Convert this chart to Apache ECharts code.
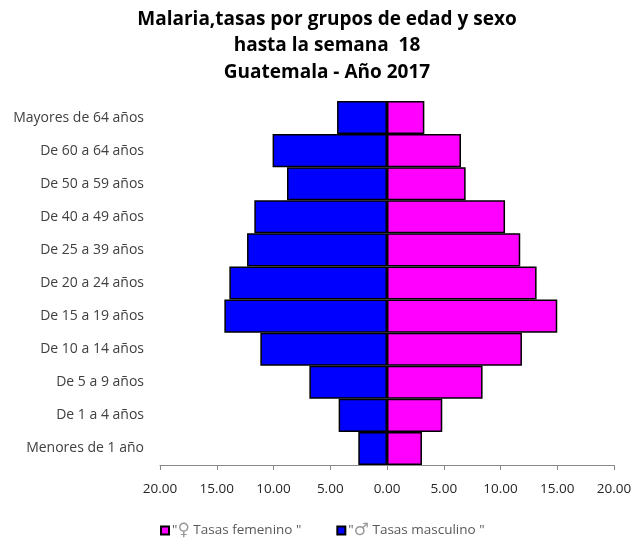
<!DOCTYPE html>
<html>
<head>
<meta charset="utf-8">
<script src="https://cdn.jsdelivr.net/npm/echarts@6/dist/echarts.min.js"></script>
<style>
  html, body { margin: 0; padding: 0; background: #fff; }
  #chart { width: 636px; height: 544px; }
</style>
</head>
<body>
<div id="chart"></div>
<script>
// grupos de edad (de abajo hacia arriba)
var grupos = ['Menores de 1 año', 'De 1 a 4 años', 'De 5 a 9 años', 'De 10 a 14 años',
  'De 15 a 19 años', 'De 20 a 24 años', 'De 25 a 39 años', 'De 40 a 49 años',
  'De 50 a 59 años', 'De 60 a 64 años', 'Mayores de 64 años']
var tasasFemenino = [3.08, 4.87, 8.42, 11.89, 15.0, 13.18, 11.74, 10.4, 6.93, 6.52, 3.29]
var tasasMasculino = [2.53, 4.26, 6.84, 11.16, 14.33, 13.89, 12.33, 11.69, 8.81, 10.08, 4.4]

var chart = echarts.init(document.getElementById('chart'))
var font = '"Open Sans", Lato, sans-serif'

chart.setOption({
  animation: false,
  title: {
    text: 'Malaria,tasas por grupos de edad y sexo\nhasta la semana  18\nGuatemala - Año 2017',
    left: 322,
    textAlign: 'center',
    top: 1,
    textStyle: {
      fontFamily: font,
      fontSize: 19,
      fontWeight: 'bold',
      color: '#000',
      lineHeight: 26.5
    }
  },
  legend: {
    top: 522,
    left: 160,
    padding: 0,
    itemGap: 35,
    itemWidth: 8,
    itemHeight: 8,
    icon: 'rect',
    formatter: function (name) {
      // agrandar el símbolo de sexo
      return name.replace(/([♀♂])/, '{s|$1}')
    },
    textStyle: {
      fontFamily: font,
      fontSize: 13.5,
      color: '#595959',
      padding: [0, 0, 0, -2],
      rich: { s: { fontSize: 17, color: '#9a9a9a', fontFamily: 'DejaVu Sans' } }
    },
    data: ['"♀ Tasas femenino "', '"♂ Tasas masculino "']
  },
  grid: {
    left: 160,
    right: 22,
    top: 101,
    bottom: 79
  },
  xAxis: {
    type: 'value',
    min: -20,
    max: 20,
    interval: 5,
    splitLine: { show: false },
    axisLine: { show: true, lineStyle: { color: '#888', width: 1 } },
    axisTick: { show: true, length: 5, lineStyle: { color: '#888' } },
    axisLabel: {
      margin: 17,
      fontFamily: font,
      fontSize: 13.5,
      color: '#262626',
      formatter: function (v) {
        return Math.abs(v).toFixed(2)
      }
    }
  },
  yAxis: {
    type: 'category',
    data: grupos,
    axisLine: { show: false },
    axisTick: { show: false },
    axisLabel: {
      margin: 16,
      fontFamily: font,
      fontSize: 14,
      color: '#404040'
    }
  },
  series: [
    {
      name: '"♀ Tasas femenino "',
      type: 'bar',
      stack: 'total',
      barCategoryGap: 0,
      data: tasasFemenino,
      itemStyle: { color: '#ff00ff', borderColor: '#000', borderWidth: 1.5 }
    },
    {
      name: '"♂ Tasas masculino "',
      type: 'bar',
      stack: 'total',
      barCategoryGap: 0,
      data: tasasMasculino.map(function (v) { return -v }),
      itemStyle: { color: '#0000ff', borderColor: '#000', borderWidth: 1.5 }
    }
  ]
})
</script>
</body>
</html>
